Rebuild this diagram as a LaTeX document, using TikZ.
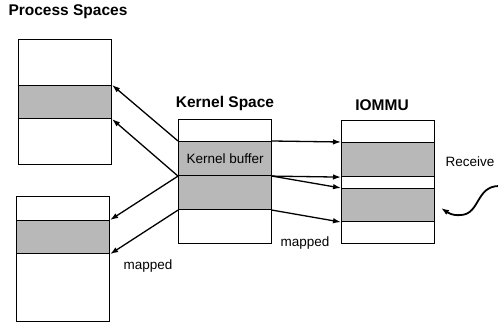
\documentclass[tikz,border=0pt]{standalone}
\usepackage{fontspec}
\setmainfont{Liberation Sans}
\usetikzlibrary{arrows.meta}
\tikzset{>={Latex[length=8pt,width=5.5pt]}}
\tikzset{
  band/.style={draw, line width=1.1pt, inner sep=0pt, anchor=north west,
    minimum width=93pt, font=\fontsize{13.5}{16}\selectfont},
  buf/.style={band, fill=black!28},
  title/.style={font=\fontsize{15.5}{18}\selectfont\bfseries},
  note/.style={font=\fontsize{13.5}{16}\selectfont},
  map/.style={->, line width=1.3pt}
}

\begin{document}
\begin{tikzpicture}[x=1pt,y=-1pt]
  \useasboundingbox (0,0) rectangle (498,324);

  \node[title] (ps_title) at (68,12) {Process Spaces};
  \node[title] (ks_title) at (225,103) {Kernel Space};
  \node[title] (io_title) at (382,105) {IOMMU};

  % process space, upper
  \node[band, minimum height=46pt] (p1_a) at (18,39) {};
  \node[buf,  minimum height=33pt] (p1_b) at (18,85) {};
  \node[band, minimum height=46pt] (p1_c) at (18,118) {};

  % process space, lower
  \node[band, minimum height=24pt] (p2_a) at (16,196) {};
  \node[buf,  minimum height=33pt] (p2_b) at (16,220) {};
  \node[band, minimum height=68pt] (p2_c) at (16,253) {};

  % kernel space
  \node[band, minimum height=22pt] (k_a) at (178,119) {};
  \node[buf,  minimum height=34pt] (k_b) at (178,141) {Kernel buffer};
  \node[buf,  minimum height=34pt] (k_c) at (178,175) {};
  \node[band, minimum height=34pt] (k_d) at (178,209) {};

  % iommu
  \node[band, minimum height=22pt] (io_a) at (341,120) {};
  \node[buf,  minimum height=34pt] (io_b) at (341,142) {};
  \node[band, minimum height=12pt] (io_c) at (341,176) {};
  \node[buf,  minimum height=33pt] (io_d) at (341,188) {};
  \node[band, minimum height=22pt] (io_e) at (341,221) {};

  \node[note] (map_l) at (148,266) {mapped};
  \node[note] (map_r) at (305,243) {mapped};
  \node[note] (recv) at (470,162) {Receive};

  \draw[map] (k_b.north west) -- (p1_b.north east);
  \draw[map] (k_b.south west) -- (p1_b.south east);
  \draw[map] (k_b.south west) -- (p2_b.north east);
  \draw[map] (k_c.south west) -- (p2_b.south east);

  \draw[map] (k_b.north east) -- (io_b.north west);
  \draw[map] (k_b.south east) -- (io_b.south west);
  \draw[map] (k_b.south east) -- (io_d.north west);
  \draw[map] (k_c.south east) -- (io_d.south west);

  \node[coordinate] (wave_in) at (499,186) {};
  \node[coordinate] (wave_end) at (441,208) {};
  \draw[->, line width=1.8pt] (wave_in) .. controls (476,186) and (480,214) .. (461,215)
    .. controls (452,216) and (447,212) .. (wave_end);

\end{tikzpicture}
\end{document}
